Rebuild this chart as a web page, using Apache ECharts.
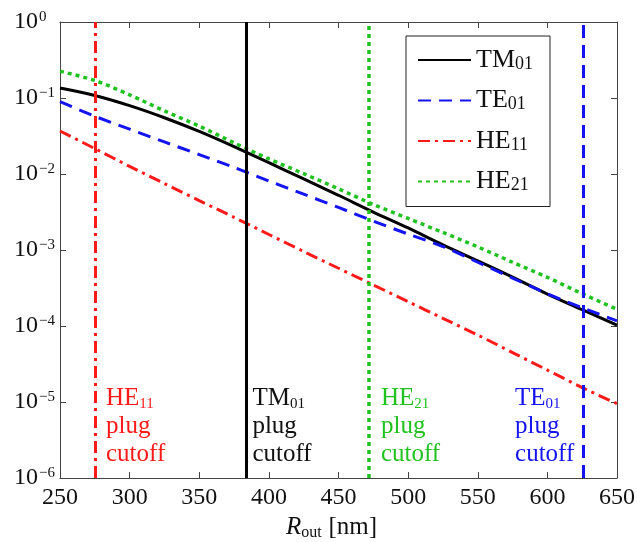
<!DOCTYPE html>
<html>
<head>
<meta charset="utf-8">
<script src="https://cdn.jsdelivr.net/npm/echarts@6/dist/echarts.min.js"></script>
<style>
  html, body { margin: 0; padding: 0; background: #fff; }
  #chart { width: 637px; height: 542px; }
</style>
</head>
<body>
<div id="chart"></div>
<script>
// Outer radius R_out [nm]
const radii = [250, 275, 300, 325, 350, 375, 400, 425, 450, 475, 500, 525, 550, 575, 600, 625, 650];

// Mode curves (log scale values)
const tm01 = [0.135, 0.108, 0.0794, 0.055, 0.0363, 0.0229, 0.0141, 0.0086, 0.00525, 0.00316, 0.00195, 0.00117, 7.2e-4, 4.4e-4, 2.63e-4, 1.64e-4, 1.03e-4];
const te01 = [0.0895, 0.0575, 0.0389, 0.0264, 0.018, 0.0122, 0.0081, 0.00543, 0.00363, 0.0024, 0.00162, 0.00111, 6.9e-4, 4.27e-4, 2.66e-4, 1.74e-4, 1.17e-4];
const he11 = [0.0368, 0.0216, 0.0126, 0.0075, 0.00447, 0.00269, 0.0016, 9.55e-4, 5.75e-4, 3.47e-4, 2.09e-4, 1.26e-4, 7.6e-5, 4.47e-5, 2.63e-5, 1.55e-5, 9.5e-6];
const he21 = [0.225, 0.170, 0.110, 0.0676, 0.0427, 0.0257, 0.0158, 0.0101, 0.00638, 0.00398, 0.0026, 0.0017, 0.0011, 6.9e-4, 4.37e-4, 2.66e-4, 1.66e-4];

// Plug cutoff radii [nm]
const cutoffTM01 = 383.5;
const cutoffTE01 = 626;
const cutoffHE11 = 275.5;
const cutoffHE21 = 471.5;

const SERIF = '"Liberation Serif", "Times New Roman", serif';
const RED = '#ff1a1a', BLUE = '#1414f0', GREEN = '#1fc21f', BLACK = '#000000';

const pairs = arr => radii.map((r, i) => [r, arr[i]]);

// "HE11 / plug / cutoff" style note, first line level with 1e-5
function cutoffNote(x, mode, color, pos) {
  return {
    symbol: 'circle', symbolSize: 1,
    itemStyle: { color: 'rgba(0,0,0,0)' },
    data: [{ coord: [x, 1e-5] }],
    label: {
      show: true,
      position: pos,
      align: 'left',
      verticalAlign: 'top',
      color: color,
      formatter: '{b|' + mode.slice(0, 2) + '}{s|' + mode.slice(2) + '}\n{b|plug}\n{b|cutoff}',
      rich: {
        b: { fontFamily: SERIF, fontSize: 25, lineHeight: 28, color: color },
        s: { fontFamily: SERIF, fontSize: 15, lineHeight: 16, padding: [12, 0, 0, 0], color: color }
      }
    },
    emphasis: { disabled: true },
    animation: false
  };
}

function cutoffLine(x, color, type, width) {
  return {
    symbol: 'none', silent: true, animation: false,
    label: { show: false },
    lineStyle: { color: color, width: width, type: type },
    emphasis: { disabled: true },
    data: [{ xAxis: x }]
  };
}

function curve(name, arr, color, type, width, extra) {
  return Object.assign({
    name: name,
    type: 'line',
    data: pairs(arr),
    showSymbol: false,
    symbol: 'none',
    smooth: 0.3,
    lineStyle: { color: color, width: width, type: type },
    itemStyle: { color: color },
    animation: false,
    z: 3
  }, extra);
}

const chart = echarts.init(document.getElementById('chart'), null, { renderer: 'canvas' });

const frame = { show: true, lineStyle: { color: '#444', width: 1 } };
const ticks = { inside: true, length: 6, lineStyle: { color: '#444' } };

chart.setOption({
  backgroundColor: '#fff',
  grid: { left: 60, right: 20, top: 22, bottom: 64, containLabel: false, outerBoundsMode: 'none' },
  xAxis: [{
    type: 'value', min: 250, max: 650, interval: 50,
    axisLine: Object.assign({ onZero: false }, frame),
    axisTick: ticks,
    axisLabel: { fontFamily: SERIF, fontSize: 24, color: '#111', margin: 8 },
    splitLine: { show: false },
    name: '{i|R}{sub|out}  {n|[nm]}',
    nameLocation: 'middle',
    nameGap: 31,
    nameTextStyle: {
      color: '#111',
      padding: [0, 14, 0, 0],
      rich: {
        i: { fontFamily: SERIF, fontStyle: 'italic', fontSize: 25, lineHeight: 28 },
        sub: { fontFamily: SERIF, fontSize: 16, lineHeight: 18, padding: [10, 0, 0, 0] },
        n: { fontFamily: SERIF, fontSize: 25, lineHeight: 28 }
      }
    }
  }, {
    type: 'value', min: 250, max: 650, interval: 50, position: 'top',
    axisLine: frame, axisTick: ticks,
    axisLabel: { show: false }, splitLine: { show: false }
  }],
  yAxis: [{
    type: 'log', logBase: 10, min: 1e-6, max: 1,
    axisLine: frame, axisTick: ticks,
    minorTick: { show: false },
    splitLine: { show: false },
    axisLabel: {
      margin: 46, align: 'left',
      formatter: v => {
        const e = Math.round(Math.log10(v));
        return '{b|10}{s|' + (e === 0 ? '0' : '\u2212' + (-e)) + '}';
      },
      rich: {
        b: { fontFamily: SERIF, fontSize: 24, lineHeight: 24, color: '#111', verticalAlign: 'bottom' },
        s: { fontFamily: SERIF, fontSize: 15, lineHeight: 15, padding: [0, 0, 14, 1], color: '#111', verticalAlign: 'top' }
      }
    }
  }, {
    type: 'log', logBase: 10, min: 1e-6, max: 1, position: 'right',
    axisLine: frame, axisTick: ticks,
    axisLabel: { show: false }, splitLine: { show: false }
  }],
  legend: {
    orient: 'vertical',
    left: 406, top: 36,
    padding: [11, 17, 12, 11],
    itemWidth: 53, itemHeight: 14, itemGap: 14.5,
    borderColor: '#222', borderWidth: 1, borderRadius: 0,
    backgroundColor: '#fff',
    selectedMode: false,
    itemStyle: { opacity: 0 },
    data: ['TM01', 'TE01', 'HE11', 'HE21'],
    formatter: n => '{b|' + n.slice(0, 2) + '}{s|' + n.slice(2) + '}',
    textStyle: { color: '#111', rich: {
      b: { fontFamily: SERIF, fontSize: 26, lineHeight: 28, color: '#111' },
      s: { fontFamily: SERIF, fontSize: 18, lineHeight: 20, padding: [8, 0, 0, 0], color: '#111' }
    } }
  },
  series: [
    curve('TM01', tm01, BLACK, 'solid', 3, {
      markLine: cutoffLine(cutoffTM01, BLACK, 'solid', 3),
      markPoint: cutoffNote(cutoffTM01, 'TM01', '#111', [7, -17])
    }),
    curve('TE01', te01, BLUE, [13, 8], 3, {
      markLine: cutoffLine(cutoffTE01, BLUE, [13, 7], 3),
      markPoint: cutoffNote(cutoffTE01, 'TE01', BLUE, [-68, -17])
    }),
    curve('HE11', he11, RED, [12, 5, 3, 5], 3, {
      markLine: cutoffLine(cutoffHE11, RED, [12, 5, 3, 5], 3),
      markPoint: cutoffNote(cutoffHE11, 'HE11', RED, [11, -17])
    }),
    curve('HE21', he21, GREEN, [4, 4], 3.5, {
      markLine: cutoffLine(cutoffHE21, GREEN, [4, 4], 3.5),
      markPoint: cutoffNote(cutoffHE21, 'HE21', GREEN, [13, -17])
    })
  ]
});
</script>
</body>
</html>
